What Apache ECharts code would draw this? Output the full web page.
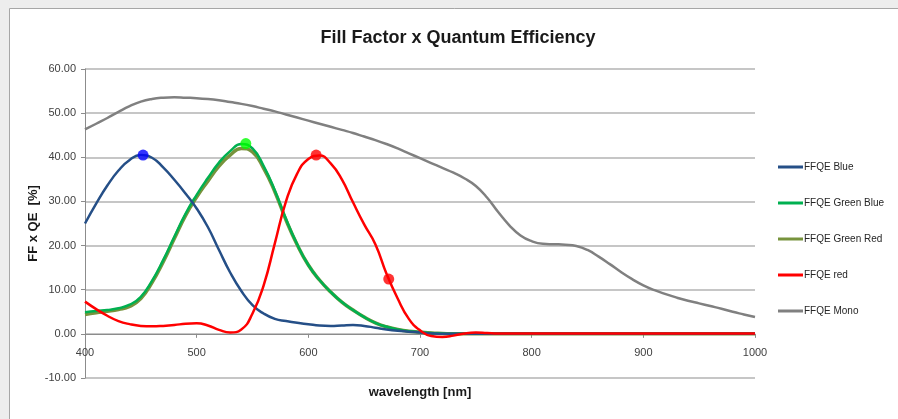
<!DOCTYPE html>
<html>
<head>
<meta charset="utf-8">
<script src="https://cdn.jsdelivr.net/npm/echarts@6/dist/echarts.min.js"></script>
<style>
  html, body { margin: 0; padding: 0; background: #ededed; }
  #main { width: 898px; height: 419px; }
</style>
</head>
<body>
<div id="main"></div>
<script>
// wavelength [nm]
const wavelength = [400, 410, 420, 430, 440, 450, 460, 470, 480, 490,
  500, 510, 520, 530, 540, 550, 560, 570, 580, 590,
  600, 610, 620, 630, 640, 650, 660, 670, 680, 690,
  700, 710, 720, 730, 740, 750, 760, 770, 780, 790,
  800, 810, 820, 830, 840, 850, 860, 870, 880, 890,
  900, 910, 920, 930, 940, 950, 960, 970, 980, 990, 1000];

const seriesNames = ['FFQE Blue', 'FFQE Green Blue', 'FFQE Green Red', 'FFQE red', 'FFQE Mono'];

const ffqeBlue = [25.0, 29.5, 33.6, 37.0, 39.4, 40.5, 39.9, 37.7, 34.9, 31.8,
  28.4, 24.2, 19.0, 13.9, 9.7, 6.5, 4.6, 3.4, 2.9, 2.5,
  2.2, 1.9, 1.8, 1.9, 2.0, 1.8, 1.4, 1.0, 0.7, 0.5,
  0.3, 0.1, 0, 0, 0, 0, 0, 0, 0, 0,
  0, 0, 0, 0, 0, 0, 0, 0, 0, 0,
  0, 0, 0, 0, 0, 0, 0, 0, 0, 0, 0];

const ffqeGreenBlue = [4.9, 5.2, 5.4, 5.8, 6.6, 8.4, 12.0, 16.7, 22.0, 27.2,
  31.5, 35.3, 38.8, 41.4, 43.0, 42.0, 38.0, 32.5, 26.0, 20.3,
  15.6, 12.2, 9.5, 7.2, 5.4, 3.8, 2.5, 1.6, 1.0, 0.6,
  0.4, 0.2, 0.1, 0, 0, 0, 0, 0, 0, 0,
  0, 0, 0, 0, 0, 0, 0, 0, 0, 0,
  0, 0, 0, 0, 0, 0, 0, 0, 0, 0, 0];

const ffqeGreenRed = [4.4, 4.8, 5.1, 5.5, 6.2, 8.0, 11.6, 16.3, 21.6, 26.8,
  31.0, 34.6, 38.0, 40.5, 42.0, 41.2, 37.5, 32.2, 25.8, 20.2,
  15.6, 12.2, 9.5, 7.2, 5.4, 3.8, 2.5, 1.6, 1.0, 0.6,
  0.4, 0.2, 0.1, 0, 0, 0, 0, 0, 0, 0,
  0, 0, 0, 0, 0, 0, 0, 0, 0, 0,
  0, 0, 0, 0, 0, 0, 0, 0, 0, 0, 0];

const ffqeRed = [7.3, 5.6, 4.1, 2.9, 2.2, 1.8, 1.7, 1.8, 2.0, 2.3,
  2.4, 1.9, 0.9, 0.3, 1.0, 4.6, 11.0, 20.5, 30.0, 36.3,
  39.6, 40.4, 38.6, 35.0, 29.8, 24.8, 20.3, 13.6, 8.0, 3.4,
  0.8, -0.5, -0.7, -0.4, 0.1, 0.3, 0.2, 0.1, 0.1, 0.1,
  0.1, 0.1, 0.1, 0.1, 0.1, 0.1, 0.1, 0.1, 0.1, 0.1,
  0.1, 0.1, 0.1, 0.1, 0.1, 0.1, 0.1, 0.1, 0.1, 0.1, 0.1];

const ffqeMono = [46.3, 47.6, 48.9, 50.3, 51.6, 52.6, 53.2, 53.5, 53.6, 53.5,
  53.4, 53.2, 52.9, 52.5, 52.1, 51.6, 51.0, 50.4, 49.7, 49.0,
  48.3, 47.6, 46.9, 46.2, 45.5, 44.7, 43.9, 43.0, 42.0, 40.9,
  39.8, 38.7, 37.6, 36.5, 35.2, 33.5, 30.9, 27.6, 24.6, 22.3,
  21.0, 20.4, 20.3, 20.2, 19.9, 19.0, 17.5, 15.8, 14.0, 12.4,
  11.0, 9.9, 9.0, 8.2, 7.5, 6.9, 6.3, 5.7, 5.0, 4.4, 3.8];

// highlighted points [wavelength, value]
const markerBlue = [[452, 40.5]];
const markerGreen = [[544, 43.1]];
const markerRed = [[607, 40.5], [672, 12.4]];

const yTicks = { min: -10, max: 60, step: 10 };
const xTicks = { min: 400, max: 1000, step: 100 };

const colors = ['#254f87', '#00b050', '#77933c', '#ff0000', '#808080'];
const font = 'Liberation Sans';

function pairs(values) {
  return wavelength.map((w, i) => [w, values[i]]);
}

const chart = echarts.init(document.getElementById('main'), null, { renderer: 'canvas' });

function lineSeries(name, values, color, width) {
  return {
    name: name,
    type: 'line',
    smooth: 0.5,
    symbol: 'none',
    data: pairs(values),
    lineStyle: { color: color, width: width },
    itemStyle: { color: color }
  };
}

function dotSeries(name, points, color) {
  return {
    name: name,
    type: 'scatter',
    symbolSize: 11,
    data: points,
    itemStyle: { color: color },
    z: 5
  };
}

const option = {
  backgroundColor: 'transparent',
  animation: false,
  textStyle: { fontFamily: font },
  graphic: [{
    type: 'rect',
    left: 9, top: 8,
    shape: { width: 900, height: 420 },
    style: { fill: '#ffffff', stroke: '#a6a6a6', lineWidth: 1 },
    z: -10
  }],
  title: {
    text: 'Fill Factor x Quantum Efficiency',
    left: 453, top: 24,
    textAlign: 'center',
    textStyle: { fontFamily: font, fontWeight: 'bold', fontSize: 18, color: '#1a1a1a' }
  },
  legend: {
    data: seriesNames,
    orient: 'vertical',
    left: 773, top: 157,
    icon: 'rect',
    itemWidth: 25, itemHeight: 3,
    itemGap: 26,
    textStyle: { fontFamily: font, fontSize: 10, color: '#262626', padding: [0, 0, 0, -4] }
  },
  grid: { left: 85, right: 143, top: 69, bottom: 41, containLabel: false, outerBoundsMode: 'none' },
  xAxis: {
    type: 'value',
    min: xTicks.min, max: xTicks.max, interval: xTicks.step,
    name: 'wavelength [nm]',
    nameLocation: 'middle',
    nameGap: 8,
    nameTextStyle: { fontFamily: font, fontWeight: 'bold', fontSize: 13, color: '#1a1a1a' },
    axisLine: { onZero: true, lineStyle: { color: '#8c8c8c', width: 1 } },
    axisTick: { show: true, length: 4, lineStyle: { color: '#8c8c8c' } },
    // labels sit just under the zero line
    axisLabel: { fontSize: 11, color: '#404040', margin: -31, formatter: v => String(v) },
    splitLine: { show: false }
  },
  yAxis: {
    type: 'value',
    min: yTicks.min, max: yTicks.max, interval: yTicks.step,
    name: 'FF x QE  [%]',
    nameLocation: 'middle',
    nameGap: 45,
    nameMoveOverlap: false,
    nameTextStyle: { fontFamily: font, fontWeight: 'bold', fontSize: 13, color: '#1a1a1a' },
    axisLine: { show: true, lineStyle: { color: '#8c8c8c', width: 1 } },
    axisTick: { show: true, length: 4, lineStyle: { color: '#8c8c8c' } },
    axisLabel: { fontSize: 11, color: '#404040', margin: 9, formatter: v => v.toFixed(2) },
    splitLine: { show: true, lineStyle: { color: '#b3b3b3', width: 1.5 } }
  },
  series: [
    lineSeries('FFQE Mono', ffqeMono, colors[4], 2.5),
    lineSeries('FFQE Green Red', ffqeGreenRed, colors[2], 3.5),
    lineSeries('FFQE Green Blue', ffqeGreenBlue, colors[1], 2.5),
    lineSeries('FFQE Blue', ffqeBlue, colors[0], 2.5),
    lineSeries('FFQE red', ffqeRed, colors[3], 2.5),
    dotSeries('peak blue', markerBlue, '#0000ff'),
    dotSeries('peak green', markerGreen, '#00ff00'),
    dotSeries('points red', markerRed, '#ff0000')
  ]
};

chart.setOption(option);
</script>
</body>
</html>
